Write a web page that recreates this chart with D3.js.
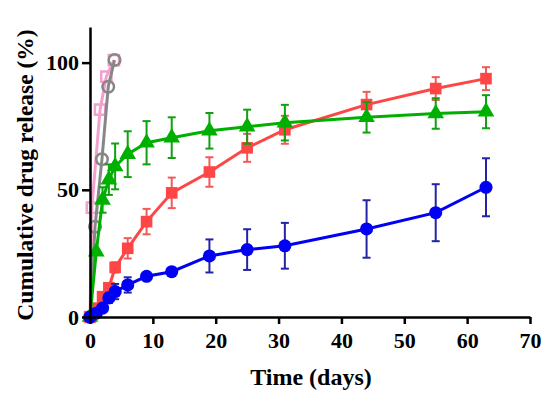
<!DOCTYPE html>
<html><head><meta charset="utf-8">
<script src="https://cdn.jsdelivr.net/npm/d3@7"></script>
<style>body{margin:0;background:#fff}svg{display:block}</style>
</head><body>
<script>
const xTicks = [0,10,20,30,40,50,60,70];
const yTicks = [0,50,100];
const timeMain = [0,1,2,3,4,6,9,13,19,25,31,44,55,63];
const redVals = [0,3.5,8,11.5,19.5,27,37.5,48.8,57,66.5,73.6,83.5,89.8,93.7];
const redErr  = [0,1,1,1.5,2,4,5,6,5.8,5.5,5.5,5,4.5,4.5];
const greenVals = [0,25.7,46,54,59.2,64,68.5,70.5,73.2,74.8,76.4,78.5,80,80.7];
const greenErr  = [0,0,5,6,9,9,8.5,8,7,6.7,7,6,6,6.5];
const blueVals = [0,1.5,3.5,7.5,10,12.6,16,17.8,24,26.5,28,34.6,41,51];
const blueErr  = [0,0.5,1,2,3,3,1,1.5,6.5,8,9,11.3,11.2,11.4];
const pinkTime = [0,0.3,1.6,2.6,3.8];
const pinkVals = [0,43,81.5,94.5,101];
const grayTime = [0,0.8,1.9,2.9,3.9];
const grayVals = [0,35.5,62,90.5,101];

const W=550,H=399;
const svg=d3.select("body").append("svg").attr("width",W).attr("height",H);
const x=d3.scaleLinear().domain([0,70]).range([90,530]);
const y=d3.scaleLinear().domain([0,114]).range([317,27]);

const font='"Liberation Serif","Times New Roman",serif';

function series(times, vals, errs, color, errColor, shape, filled){
  const g=svg.append("g");
  const pts=times.map((t,i)=>({t,v:vals[i],e:errs?errs[i]:0}));
  if(errs){
    pts.filter(d=>d.e>0).forEach(d=>{
      const cx=x(d.t), y1=y(d.v+d.e), y2=y(d.v-d.e);
      g.append("line").attr("x1",cx).attr("x2",cx).attr("y1",y1).attr("y2",y2).attr("stroke",errColor).attr("stroke-width",2);
      [y1,y2].forEach(yy=>g.append("line").attr("x1",cx-4).attr("x2",cx+4).attr("y1",yy).attr("y2",yy).attr("stroke",errColor).attr("stroke-width",2));
    });
  }
  g.append("path").datum(pts).attr("fill","none").attr("stroke",color).attr("stroke-width",3)
    .attr("d",d3.line().x(d=>x(d.t)).y(d=>y(d.v)));
  const sym = shape==="square"?d3.symbolSquare:shape==="circle"?d3.symbolCircle:d3.symbolTriangle;
  const size = shape==="square"?135:shape==="circle"?135:120;
  g.selectAll("path.m").data(pts).enter().append("path").attr("class","m")
    .attr("d",d3.symbol().type(sym).size(filled?size:105))
    .attr("transform",d=>`translate(${x(d.t)},${y(d.v)})`)
    .attr("fill",filled?color:"#fff").attr("fill-opacity",filled?1:0)
    .attr("stroke",color).attr("stroke-width",filled?0:2.5);
}

series(pinkTime,pinkVals,null,"#f4a0cf","#f4a0cf","square",false);
series(grayTime,grayVals,null,"#878787","#878787","circle",false);
series(timeMain,redVals,redErr,"#ff4646","#f25a5a","square",true);
series(timeMain,greenVals,greenErr,"#00b000","#10a010","triangle",true);
series(timeMain,blueVals,blueErr,"#0000f5","#2323a8","circle",true);

// axes
const xa=svg.append("g").attr("transform","translate(0,317)")
  .call(d3.axisBottom(x).tickValues(xTicks).tickSize(7).tickSizeOuter(0).tickPadding(8));
const ya=svg.append("g").attr("transform","translate(90,0)")
  .call(d3.axisLeft(y).tickValues(yTicks).tickSize(8).tickSizeOuter(0).tickPadding(3));
[xa,ya].forEach(a=>{
  a.select(".domain").attr("stroke","#000").attr("stroke-width",2.5);
  a.selectAll(".tick line").attr("stroke","#000").attr("stroke-width",2.5);
  a.selectAll(".tick text").attr("font-family",font).attr("font-weight","bold").attr("font-size",22).attr("fill","#000");
});

svg.append("text").attr("x",311).attr("y",385).attr("text-anchor","middle")
  .attr("font-family",font).attr("font-weight","bold").attr("font-size",24).text("Time (days)");
svg.append("text").attr("transform","translate(33,175) rotate(-90)").attr("text-anchor","middle")
  .attr("font-family",font).attr("font-weight","bold").attr("font-size",23.5).text("Cumulative drug release (%)");
</script>
</body></html>
